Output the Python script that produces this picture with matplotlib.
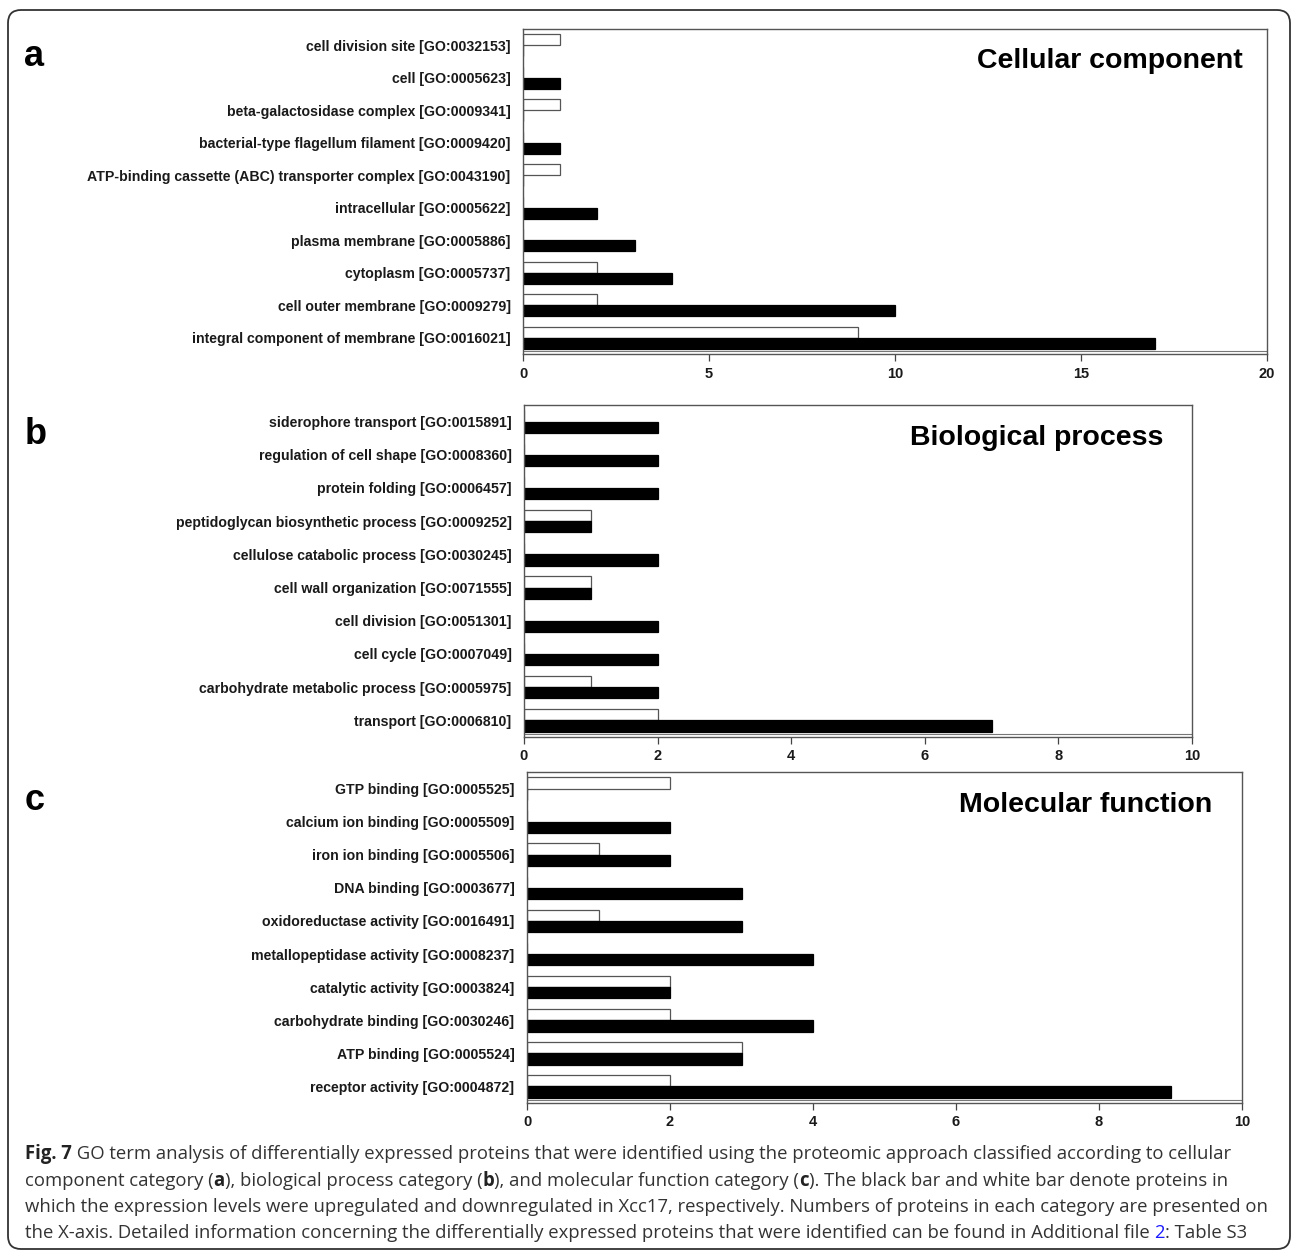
import numpy as np
import matplotlib.pyplot as plt
from matplotlib.patches import FancyBboxPatch

# GO terms listed top to bottom; up = upregulated (black), down = downregulated (white)
cc_terms = [
    "cell division site [GO:0032153]",
    "cell [GO:0005623]",
    "beta-galactosidase complex [GO:0009341]",
    "bacterial-type flagellum filament [GO:0009420]",
    "ATP-binding cassette (ABC) transporter complex [GO:0043190]",
    "intracellular [GO:0005622]",
    "plasma membrane [GO:0005886]",
    "cytoplasm [GO:0005737]",
    "cell outer membrane [GO:0009279]",
    "integral component of membrane [GO:0016021]",
]
cc_up = [0, 1, 0, 1, 0, 2, 3, 4, 10, 17]
cc_down = [1, 0, 1, 0, 1, 0, 0, 2, 2, 9]

bp_terms = [
    "siderophore transport [GO:0015891]",
    "regulation of cell shape [GO:0008360]",
    "protein folding [GO:0006457]",
    "peptidoglycan biosynthetic process [GO:0009252]",
    "cellulose catabolic process [GO:0030245]",
    "cell wall organization [GO:0071555]",
    "cell division [GO:0051301]",
    "cell cycle [GO:0007049]",
    "carbohydrate metabolic process [GO:0005975]",
    "transport [GO:0006810]",
]
bp_up = [2, 2, 2, 1, 2, 1, 2, 2, 2, 7]
bp_down = [0, 0, 0, 1, 0, 1, 0, 0, 1, 2]

mf_terms = [
    "GTP binding [GO:0005525]",
    "calcium ion binding [GO:0005509]",
    "iron ion binding [GO:0005506]",
    "DNA binding [GO:0003677]",
    "oxidoreductase activity [GO:0016491]",
    "metallopeptidase activity [GO:0008237]",
    "catalytic activity [GO:0003824]",
    "carbohydrate binding [GO:0030246]",
    "ATP binding [GO:0005524]",
    "receptor activity [GO:0004872]",
]
mf_up = [0, 2, 2, 3, 3, 4, 2, 4, 3, 9]
mf_down = [2, 0, 1, 0, 1, 0, 2, 2, 3, 2]

CHART_FONT = "Liberation Sans"
W_PX, H_PX = 1293, 1251

fig = plt.figure(figsize=(W_PX / 100, H_PX / 100), dpi=100)


def px_rect(left, top, right, bottom):
    return [left / W_PX, 1 - bottom / H_PX, (right - left) / W_PX, (bottom - top) / H_PX]


def panel(rect, terms, up, down, xmax, step, title, title_inset, letter, letter_xy):
    ax = fig.add_axes(rect)
    n = len(terms)
    y = np.arange(n)[::-1]
    h = 0.34
    ax.barh(y + h / 2, down, height=h, color="white", edgecolor="#555555", linewidth=0.9)
    ax.barh(y - h / 2, up, height=h, color="black", edgecolor="black", linewidth=0.9)
    ax.set_ylim(-0.5, n - 0.5)
    ax.set_xlim(0, xmax)
    ax.set_yticks(y)
    ax.set_yticklabels(terms, fontfamily=CHART_FONT, fontweight="bold", fontsize=10.2, color="#1a1a1a")
    ticks = np.arange(0, xmax + step, step)
    ax.set_xticks(ticks)
    ax.set_xticklabels([str(v) for v in ticks],
                       fontfamily=CHART_FONT, fontweight="bold", fontsize=10.5, color="#1a1a1a")
    ax.tick_params(axis="y", length=0, pad=9)
    ax.tick_params(axis="x", direction="out", length=5, width=0.9, color="#444444", pad=4)
    for s in ax.spines.values():
        s.set_color("#555555")
        s.set_linewidth(1.0)
    # thin double line just above the x axis
    ax.axhline(-0.5 + 0.09, color="#777777", linewidth=0.8)
    ax.text(1 - title_inset / (rect[2] * W_PX), 0.9, title, transform=ax.transAxes,
            ha="right", va="center", fontfamily=CHART_FONT, fontweight="bold", fontsize=20.5)
    fig.text(letter_xy[0] / W_PX, 1 - letter_xy[1] / H_PX, letter, ha="left", va="center",
             fontfamily=CHART_FONT, fontweight="bold", fontsize=26)
    return ax


panel(px_rect(523, 29, 1267, 354), cc_terms, cc_up, cc_down, 20, 5,
      "Cellular component", 24, "a", (24, 57))
panel(px_rect(524, 405, 1192, 737), bp_terms, bp_up, bp_down, 10, 2,
      "Biological process", 29, "b", (25, 434))
panel(px_rect(527, 772, 1242, 1103), mf_terms, mf_up, mf_down, 10, 2,
      "Molecular function", 30, "c", (25, 800))

# rounded frame around the whole figure
frame = FancyBboxPatch((0.08, 0.02), (1290 - 8) / 100, (1251 - 10 - 2) / 100,
                       boxstyle="round,pad=0,rounding_size=0.13",
                       transform=fig.dpi_scale_trans, fill=False,
                       edgecolor="#333333", linewidth=1.3, clip_on=False)
fig.add_artist(frame)

# caption with mixed bold / coloured runs
caption = [
    [("Fig. 7", "bold", "#222222"),
     (" GO term analysis of differentially expressed proteins that were identified using the proteomic approach classified according to cellular", "normal", "#333333")],
    [("component category (", "normal", "#333333"), ("a", "bold", "#222222"),
     ("), biological process category (", "normal", "#333333"), ("b", "bold", "#222222"),
     ("), and molecular function category (", "normal", "#333333"), ("c", "bold", "#222222"),
     ("). The black bar and white bar denote proteins in", "normal", "#333333")],
    [("which the expression levels were upregulated and downregulated in Xcc17, respectively. Numbers of proteins in each category are presented on", "normal", "#333333")],
    [("the X-axis. Detailed information concerning the differentially expressed proteins that were identified can be found in Additional file ", "normal", "#333333"),
     ("2", "normal", "#1a1aff"), (": Table S3", "normal", "#333333")],
]
CAP_FONT = "Open Sans"
CAP_SIZE = 13.35
renderer = fig.canvas.get_renderer()


def run_width(text, weight):
    probe = fig.text(0, 0, "X" + text + "X", fontfamily=CAP_FONT, fontweight=weight, fontsize=CAP_SIZE)
    ref = fig.text(0, 0, "XX", fontfamily=CAP_FONT, fontweight=weight, fontsize=CAP_SIZE)
    w = probe.get_window_extent(renderer).width - ref.get_window_extent(renderer).width
    probe.remove()
    ref.remove()
    return w


line_y = [1159, 1186, 1212, 1238]
for runs, yb in zip(caption, line_y):
    x = 25.0
    for text, weight, color in runs:
        fig.text(x / W_PX, 1 - yb / H_PX, text, ha="left", va="baseline",
                 fontfamily=CAP_FONT, fontweight=weight, fontsize=CAP_SIZE, color=color)
        x += run_width(text, weight)

fig.savefig("out.png", dpi=100)
